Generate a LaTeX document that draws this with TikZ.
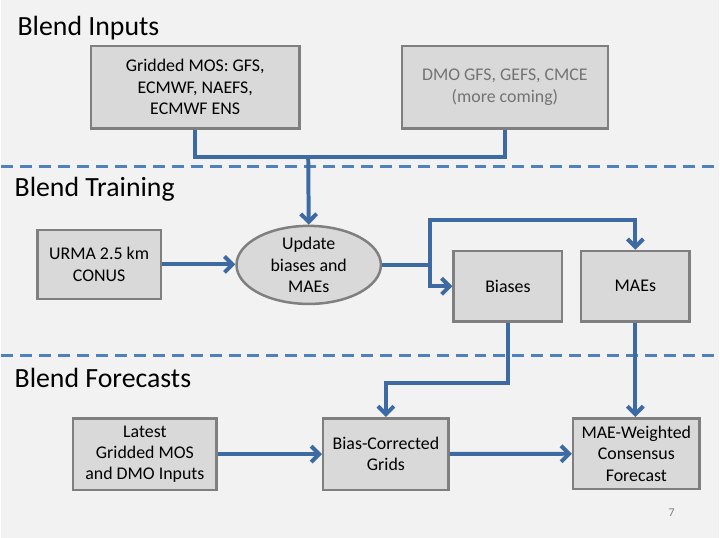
\documentclass[tikz,border=0pt]{standalone}
\usepackage{fontspec}
\setmainfont{Carlito}
\usepackage{xcolor}
\usetikzlibrary{arrows.meta,shapes.geometric}
\definecolor{pagebg}{HTML}{F2F2F2}
\definecolor{boxfill}{HTML}{D9D9D9}
\definecolor{boxedge}{HTML}{7F7F7F}
\definecolor{flowblue}{HTML}{3D6AA3}
\definecolor{sepblue}{HTML}{4F81BD}

\begin{document}
\begin{tikzpicture}[x=1bp,y=-1bp,
  box/.style={draw=boxedge, fill=boxfill, line width=2.5bp, align=center, inner sep=0pt, font=\fontsize{18}{21.5}\selectfont},
  flow/.style={draw=flowblue, line width=4bp},
  arr/.style={flow, -{Straight Barb[length=8bp,width=16bp]}},
  sep/.style={draw=sepblue, line width=3bp, dash pattern=on 12bp off 7bp},
  title/.style={anchor=west, inner sep=0pt, font=\fontsize{28}{32}\selectfont}]
\fill[pagebg] (0,0) rectangle (720,540);
% sections
\node[title] (tin) at (16,28) {Blend Inputs};
\node[title] (ttr) at (13,190) {Blend Training};
\node[title] (tfc) at (13,380) {Blend Forecasts};
\draw[sep] (0,167) -- (720,167);
\draw[sep] (0,357) -- (720,357);
% inputs
\node[box, minimum width=209bp, minimum height=83bp] (mos) at (194.5,87.5) {Gridded MOS: GFS,\\ECMWF, NAEFS,\\ECMWF ENS};
\node[box, minimum width=207bp, minimum height=83bp, text=black!55] (dmo) at (505.5,87.5) {DMO GFS, GEFS, CMCE\\(more coming)};
% training
\node[box, minimum width=124bp, minimum height=69bp] (urma) at (98,265.5) {URMA 2.5 km\\CONUS};
\node[box, ellipse, minimum width=145bp, minimum height=78bp, inner sep=0pt] (upd) at (308.5,266) {Update\\biases and\\MAEs};
\node[box, minimum width=109bp, minimum height=71bp] (bias) at (508.5,287.5) {Biases};
\node[box, minimum width=109bp, minimum height=71bp] (maes) at (636.5,287.5) {MAEs};
% forecasts
\node[box, minimum width=144bp, minimum height=72bp] (latest) at (144,456) {Latest\\Gridded MOS\\and DMO Inputs};
\node[box, minimum width=126bp, minimum height=72bp] (bc) at (386,456) {Bias-Corrected\\Grids};
\node[box, minimum width=127bp, minimum height=71bp] (mae) at (637.5,455.5) {MAE-Weighted\\Consensus\\Forecast};
\node[text=black!50, font=\fontsize{12}{14}\selectfont] (pg) at (673,515) {7};
% connectors
\coordinate (join) at (308,158);
\draw[flow] (mos.south) |- (join) -| (dmo.south);
\draw[arr] (join) -- (upd.north);
\draw[arr] (urma.east) -- (urma.east -| upd.west);
\coordinate (split) at (430,266);
\coordinate (top) at (430,221);
\draw[flow] (upd.east) -- (split);
\draw[arr] (split) -- (top) -| (maes.north);
\draw[arr] (split) |- (bias.west);
\coordinate (bend) at (508.5,385);
\draw[arr] (bias.south) -- (bend) -| (bc.north);
\draw[arr] (maes.south) -- (maes.south |- mae.north);
\draw[arr] (latest) -- (bc);
\draw[arr] (bc) -- (mae);
\end{tikzpicture}
\end{document}
